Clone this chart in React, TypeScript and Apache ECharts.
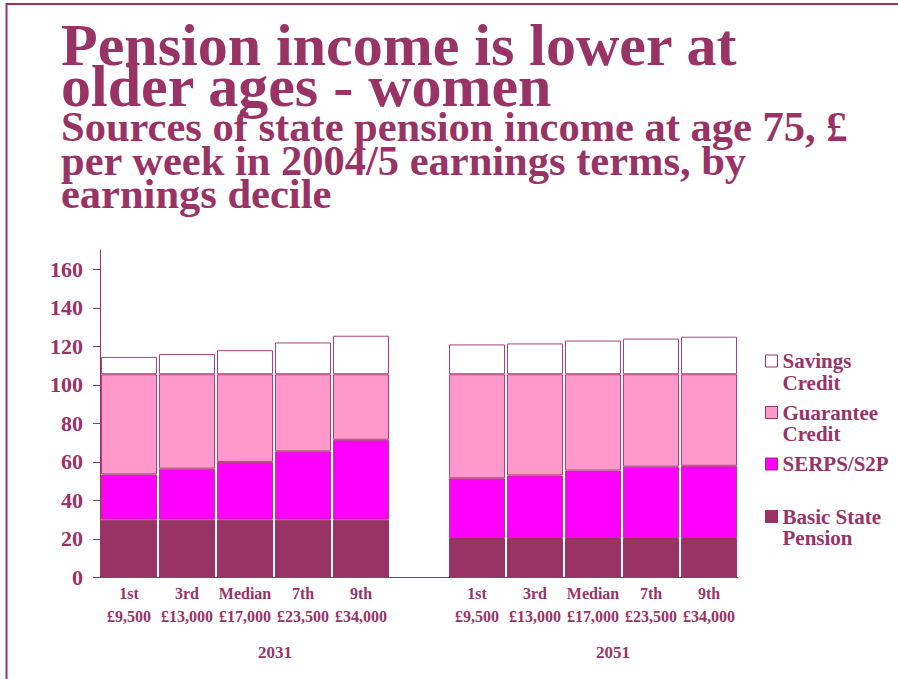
import React, { useEffect, useRef } from "react";
import * as echarts from "echarts";

const DECILES = ["1st", "3rd", "Median", "7th", "9th"];
const EARNINGS = ["£9,500", "£13,000", "£17,000", "£23,500", "£34,000"];
const YEARS = ["2031", "2051"];

// values per decile, £ per week (2031 then 2051)
const BASIC_2031 = [30, 30, 30, 30, 30];
const SERPS_2031 = [23.5, 26.5, 30, 35.5, 41.5];
const GUARANTEE_2031 = [52, 49, 45.5, 40, 34];
const SAVINGS_2031 = [9, 10.5, 12.5, 16.5, 20];

const BASIC_2051 = [20.5, 20.5, 20.5, 20.5, 20.5];
const SERPS_2051 = [31, 32.5, 35, 37, 37.5];
const GUARANTEE_2051 = [54, 52.5, 50, 48, 47.5];
const SAVINGS_2051 = [15.5, 16, 17.5, 18.5, 19.5];

const SERIES_NAMES = ["Basic State Pension", "SERPS/S2P", "Guarantee Credit", "Savings Credit"];
const LEGEND_LABELS = ["Basic State\nPension", "SERPS/S2P", "Guarantee\nCredit", "Savings\nCredit"];
const Y_TICKS = [0, 20, 40, 60, 80, 100, 120, 140, 160];

const TITLE = "Pension income is lower at\nolder ages - women";
const SUBTITLE = "Sources of state pension income at age 75, £\nper week in 2004/5 earnings terms, by\nearnings decile";

const MAIN = "#993366";
const FONT = "Liberation Serif";

export default function App() {
  const ref = useRef<HTMLDivElement>(null);
  useEffect(() => {
    if (!ref.current) return;
    const chart = echarts.init(ref.current, undefined, { renderer: "svg" });
    const group = DECILES.map((d, i) => d + "\n" + EARNINGS[i]);
    const categories = [...group, "", ...group];
    const join = (a: number[], b: number[]) => [...a, "-", ...b];
    const seriesData = [
      join(BASIC_2031, BASIC_2051),
      join(SERPS_2031, SERPS_2051),
      join(GUARANTEE_2031, GUARANTEE_2051),
      join(SAVINGS_2031, SAVINGS_2051),
    ];
    const colors = [MAIN, "#ff00ff", "#ff99cc", "#ffffff"];
    const borders = [MAIN, "#b0407a", "#b0407a", "#b0407a"];
    const legendCenters = [516.5, 464, 412.5, 361];
    const LH = 21.7;

    const legends = SERIES_NAMES.map((name, i) => {
      const twoLine = LEGEND_LABELS[i].includes("\n");
      // two-line labels get an empty leading line so the icon sits on the first line
      const label = twoLine ? "\n" + LEGEND_LABELS[i] : LEGEND_LABELS[i];
      const top = twoLine ? legendCenters[i] - LH * 1.5 : legendCenters[i] - LH / 2;
      return {
        show: true,
        left: 765,
        top,
        padding: 0,
        itemWidth: 12,
        itemHeight: 12,
        itemGap: 0,
        icon: "rect",
        orient: "vertical",
        selectedMode: false,
        data: [
          {
            name,
            itemStyle: { color: colors[i], borderColor: MAIN, borderWidth: 1 },
          },
        ],
        formatter: () => label,
        textStyle: {
          color: MAIN,
          fontFamily: FONT,
          fontWeight: "bold",
          fontSize: 21,
          lineHeight: LH,
        },
      };
    });

    chart.setOption({
      animation: false,
      backgroundColor: "#ffffff",
      grid: { left: 100, right: 160, top: 250, bottom: 101.5, containLabel: false },
      legend: legends,
      xAxis: {
        type: "category",
        data: categories,
        axisLine: { show: true, lineStyle: { color: MAIN, width: 1 } },
        axisTick: { show: false },
        axisLabel: {
          interval: 0,
          margin: 4,
          color: MAIN,
          fontFamily: FONT,
          fontWeight: "bold",
          fontSize: 16,
          lineHeight: 23.3,
        },
      },
      yAxis: {
        type: "value",
        min: 0,
        max: 170,
        interval: 10,
        splitLine: { show: false },
        axisLine: { show: true, lineStyle: { color: MAIN, width: 1 } },
        axisTick: { show: true, length: 7, customValues: Y_TICKS, lineStyle: { color: MAIN } },
        axisLabel: {
          customValues: Y_TICKS,
          margin: 17,
          color: MAIN,
          fontFamily: FONT,
          fontWeight: "bold",
          fontSize: 22,
        },
      },
      series: SERIES_NAMES.map((name, i) => ({
        name,
        type: "bar",
        stack: "total",
        barCategoryGap: "3.5%",
        data: seriesData[i],
        itemStyle: { color: colors[i], borderColor: borders[i], borderWidth: 1 },
        emphasis: { disabled: true },
      })),
      graphic: [
        { type: "line", shape: { x1: 6.5, y1: 4, x2: 898, y2: 4 }, style: { stroke: MAIN, lineWidth: 2 } },
        { type: "line", shape: { x1: 6.5, y1: 3, x2: 6.5, y2: 679 }, style: { stroke: MAIN, lineWidth: 2 } },
        {
          type: "text",
          left: 61,
          top: 14.5,
          style: {
            text: TITLE,
            fill: MAIN,
            font: `bold 60px "${FONT}"`,
            lineHeight: 41.7,
          },
        },
        {
          type: "text",
          left: 61,
          top: 105,
          style: {
            text: SUBTITLE,
            fill: MAIN,
            font: `bold 42.5px "${FONT}"`,
            lineHeight: 33.7,
          },
        },
        {
          type: "text",
          x: 275,
          y: 652,
          style: {
            text: YEARS[0],
            fill: MAIN,
            font: `bold 17px "${FONT}"`,
            align: "center",
            verticalAlign: "middle",
          },
        },
        {
          type: "text",
          x: 613,
          y: 652,
          style: {
            text: YEARS[1],
            fill: MAIN,
            font: `bold 17px "${FONT}"`,
            align: "center",
            verticalAlign: "middle",
          },
        },
      ],
    });
    return () => chart.dispose();
  }, []);
  return (
    <div
      ref={ref}
      style={{ position: "fixed", left: 0, top: 0, width: 898, height: 679 }}
    />
  );
}
